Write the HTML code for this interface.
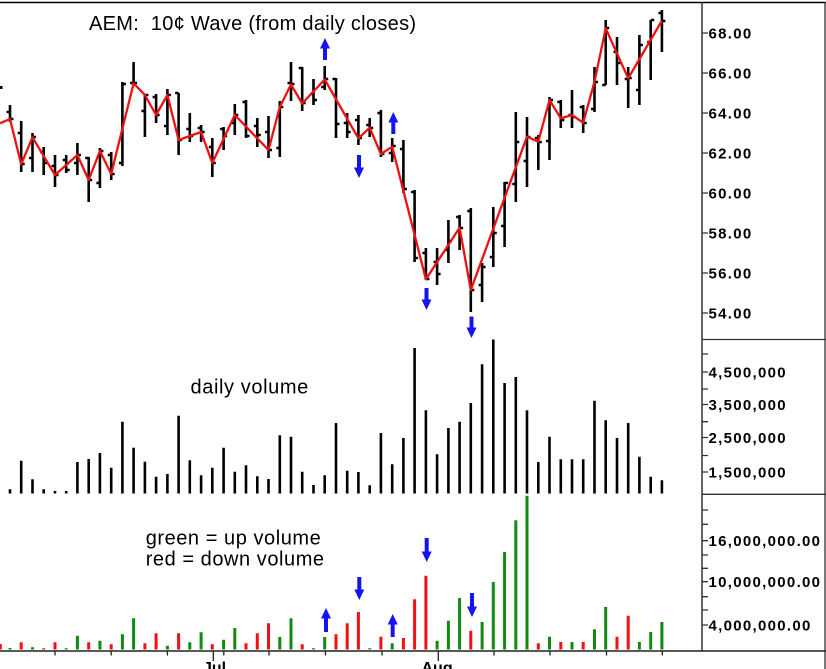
<!DOCTYPE html>
<html>
<head>
<meta charset="utf-8">
<style>
  html, body { margin: 0; padding: 0; background: #ffffff; }
  svg { display: block; }
  .t { font-family: "Liberation Sans", Arial, sans-serif; fill: #000; }
  .ax { font-family: "Liberation Sans", Arial, sans-serif; font-weight: bold; font-size: 15px; letter-spacing: 1.3px; fill: #000; }
</style>
</head>
<body>
<svg width="826" height="669" viewBox="0 0 826 669" xmlns="http://www.w3.org/2000/svg">
  <rect x="0" y="0" width="826" height="669" fill="#ffffff"/>

  <line x1="0" y1="2.5" x2="826" y2="2.5" stroke="#000" stroke-width="1.5"/>
  <line x1="702" y1="2" x2="702" y2="651" stroke="#333" stroke-width="1.5"/>
  <line x1="825" y1="2" x2="825" y2="669" stroke="#333" stroke-width="1.3"/>
  <line x1="702" y1="339.5" x2="826" y2="339.5" stroke="#333" stroke-width="1.3"/>
  <line x1="702" y1="494.3" x2="826" y2="494.3" stroke="#333" stroke-width="1.3"/>
  <line x1="0" y1="651" x2="826" y2="651" stroke="#222" stroke-width="1.5"/>

  <path d="M55 651V655.5M111.2 651V655.5M167.4 651V655.5M223.8 651V655.5M269 651V655.5M325.5 651V655.5M382 651V655.5M494 651V655.5M550 651V655.5M606.5 651V655.5M662.3 651V655.5M213.3 651V661M438.3 651V661" stroke="#222" stroke-width="1.3" fill="none"/>
  <text class="t" x="203" y="673" style="font-size:16px;font-weight:bold">Jul</text>
  <text class="t" x="421.5" y="673" style="font-size:16px;font-weight:bold">Aug</text>

  <path d="M702 33H708M702 73H708M702 113H708M702 153H708M702 193H708M702 233H708M702 273H708M702 313H708M702 354H708M702 372H708M702 389H708M702 404.5H708M702 421.7H708M702 437.5H708M702 455.5H708M702 472H708M702 510H708M702 524.3H708M702 540.7H708M702 555H708M702 568.3H708M702 581.7H708M702 596.7H708M702 610H708M702 625H708" stroke="#333" stroke-width="1.3" fill="none"/>

  <text class="ax" x="708.5" y="38.5">68.00</text>
  <text class="ax" x="708.5" y="78.5">66.00</text>
  <text class="ax" x="708.5" y="118.5">64.00</text>
  <text class="ax" x="708.5" y="158.5">62.00</text>
  <text class="ax" x="708.5" y="198.5">60.00</text>
  <text class="ax" x="708.5" y="238.5">58.00</text>
  <text class="ax" x="708.5" y="278.5">56.00</text>
  <text class="ax" x="708.5" y="318.5">54.00</text>
  <text class="ax" x="708.5" y="377.5">4,500,000</text>
  <text class="ax" x="708.5" y="410">3,500,000</text>
  <text class="ax" x="708.5" y="443">2,500,000</text>
  <text class="ax" x="708.5" y="477.5">1,500,000</text>
  <text class="ax" x="708.5" y="546.2">16,000,000.00</text>
  <text class="ax" x="708.5" y="587.2">10,000,000.00</text>
  <text class="ax" x="708.5" y="630.5">4,000,000.00</text>

  <text class="t" x="89" y="30" style="font-size:20px;letter-spacing:0.3px;white-space:pre" xml:space="preserve">AEM:  10¢ Wave (from daily closes)</text>
  <text class="t" x="190.5" y="393.3" style="font-size:20px;letter-spacing:0.6px">daily volume</text>
  <text class="t" x="145.7" y="544.3" style="font-size:20px;letter-spacing:0.55px">green = up volume</text>
  <text class="t" x="145.7" y="565.5" style="font-size:20px;letter-spacing:0.55px">red = down volume</text>

  <rect x="0" y="86" width="2.5" height="3" fill="#000"/>
  <path fill="none" stroke="#000" stroke-width="2.6" d="M10 105V122M6.5 112H10M10 119H13.5M21.2 121V172M17.7 133H21.2M21.2 164H24.7M32.5 133V172M29 158H32.5M32.5 137H36M43.7 147V175M40.2 152H43.7M43.7 163H47.2M55 155V187M51.5 166H55M55 175H58.5M66.2 155V173M62.7 160H66.2M66.2 170H69.7M77.4 143V175M73.9 163H77.4M77.4 155H80.9M88.7 157V202M85.2 158H88.7M88.7 180H92.2M99.9 148V188M96.4 183H99.9M99.9 151H103.4M111.2 152V180M107.7 155H111.2M111.2 174H114.7M122.4 82V166M118.9 163H122.4M122.4 84H125.9M133.6 62V86M130.1 83H133.6M133.6 83H137.1M144.9 94V137M141.4 111H144.9M144.9 95H148.4M156.1 94V123M152.6 97H156.1M156.1 115H159.6M167.4 89V135M163.9 126H167.4M167.4 95H170.9M178.6 93V155M175.1 93H178.6M178.6 140H182.1M189.8 113V142M186.3 129H189.8M189.8 136H193.3M201.1 125V142M197.6 128H201.1M201.1 132H204.6M212.3 138V177M208.8 147H212.3M212.3 163H215.8M223.6 127V150M220.1 129H223.6M223.6 136H227.1M234.8 104V135M231.3 123H234.8M234.8 115H238.3M246 100V138M242.5 102H246M246 136H249.5M257.3 118V147M253.8 126H257.3M257.3 135H260.8M268.5 116V158M265 132H268.5M268.5 150H272M279.8 101V157M276.3 148H279.8M279.8 107H283.3M291 62V101M287.5 83H291M291 84H294.5M302.2 67V111M298.7 68H302.2M302.2 103H305.7M313.5 79V105M310 94H313.5M313.5 100H317M324.7 66V90M321.2 87H324.7M324.7 79H328.2M336 78V138M332.5 79H336M336 124H339.5M347.2 113V138M343.7 123H347.2M347.2 132H350.7M358.4 115V145M354.9 120H358.4M358.4 138H361.9M369.7 118V137M366.2 125H369.7M369.7 128H373.2M380.9 110V157M377.4 113H380.9M380.9 154H384.4M392.2 138V162M388.7 153H392.2M392.2 146H395.7M403.4 140V193M399.9 149H403.4M403.4 189H406.9M414.6 190V262M411.1 192H414.6M414.6 258H418.1M425.9 248V280M422.4 253H425.9M425.9 279H429.4M437.1 248V285M433.6 262H437.1M437.1 274H440.6M448.4 220V263M444.9 250H448.4M448.4 241H451.9M459.6 215V250M456.1 217H459.6M459.6 228H463.1M470.8 208V312M467.3 211H470.8M470.8 290H474.3M482.1 263V302M478.6 285H482.1M482.1 267H485.6M493.3 207V267M489.8 257H493.3M493.3 233H496.8M504.6 182V247M501.1 226H504.6M504.6 183H508.1M515.8 112V202M512.3 184H515.8M515.8 142H519.3M527 117V187M523.5 161H527M527 137H530.5M538.3 135V170M534.8 138H538.3M538.3 142H541.8M549.5 97V160M546 141H549.5M549.5 100H553M560.8 100V128M557.3 102H560.8M560.8 120H564.3M572 90V128M568.5 115H572M572 117H575.5M583.2 105V133M579.7 107H583.2M583.2 123H586.7M594.5 67V112M591 109H594.5M594.5 82H598M605.7 20V85M602.2 85H605.7M605.7 28H609.2M617 37V85M613.5 52H617M617 63H620.5M628.2 67V108M624.7 79H628.2M628.2 78H631.7M639.4 35V105M635.9 90H639.4M639.4 45H642.9M650.7 20V80M647.2 42H650.7M650.7 20H654.2M661.9 10V52M658.4 13H661.9M661.9 21H665.4"/>

  <polyline fill="none" stroke="#ee1111" stroke-width="2.3" stroke-linejoin="round" points="0,123.3 10,119 21.2,164.3 32.5,137.3 55,175 77.4,155 88.7,180 99.9,151 111.2,174 133.6,83.3 144.9,95 156.1,115 167.4,95 178.6,140 201.1,132 212.3,163 234.8,115 268.5,150 279.8,107 291,84.5 302.2,103.5 324.7,79.5 358.4,138.3 369.7,127.7 380.9,154 392.2,146.7 425.9,279.3 459.6,227.7 470.8,290 527,136.7 538.3,141.7 549.5,100 560.8,118.3 572,115 583.2,122.7 594.5,81.7 605.7,28.3 628.2,78.3 661.9,20.7"/>

  <path fill="none" stroke="#000" stroke-width="2.6" d="M10 493.5V489.3M21.2 493.5V460.7M32.5 493.5V479.3M43.7 493.5V489.3M55 493.5V491M66.2 493.5V491M77.4 493.5V462M88.7 493.5V459M99.9 493.5V453M111.2 493.5V467.7M122.4 493.5V421.7M133.6 493.5V447.7M144.9 493.5V461.7M156.1 493.5V476.7M167.4 493.5V474M178.6 493.5V415.7M189.8 493.5V460.3M201.1 493.5V475.3M212.3 493.5V467.7M223.6 493.5V447.7M234.8 493.5V471.7M246 493.5V465.3M257.3 493.5V476.3M268.5 493.5V479M279.8 493.5V435.3M291 493.5V436.7M302.2 493.5V471.7M313.5 493.5V485M324.7 493.5V475.3M336 493.5V423M347.2 493.5V470.7M358.4 493.5V472M369.7 493.5V485.3M380.9 493.5V433M392.2 493.5V464.3M403.4 493.5V438M414.6 493.5V348M425.9 493.5V410.3M437.1 493.5V454.3M448.4 493.5V428M459.6 493.5V421.7M470.8 493.5V403M482.1 493.5V364.3M493.3 493.5V339.5M504.6 493.5V383M515.8 493.5V377M527 493.5V410.3M538.3 493.5V462M549.5 493.5V436.7M560.8 493.5V459.3M572 493.5V459.3M583.2 493.5V459.3M594.5 493.5V400.7M605.7 493.5V420.3M617 493.5V438M628.2 493.5V423M639.4 493.5V456.7M650.7 493.5V476.7M661.9 493.5V480.3"/>

  <path fill="none" stroke="#128a12" stroke-width="3" d="M10 649.5V648M32.5 649.5V647.3M66.2 649.5V648.3M77.4 649.5V635.7M99.9 649.5V640.7M122.4 649.5V634.3M133.6 649.5V618.3M167.4 649.5V645.7M189.8 649.5V642.3M201.1 649.5V632.3M223.6 649.5V639.7M234.8 649.5V628M279.8 649.5V637M291 649.5V618.3M313.5 649.5V648.3M324.7 649.5V637M369.7 649.5V648.3M392.2 649.5V643.3M437.1 649.5V640.7M448.4 649.5V620.7M459.6 649.5V598M482.1 649.5V622M493.3 649.5V582M504.6 649.5V552M515.8 649.5V520.3M527 649.5V495.7M549.5 649.5V636.7M572 649.5V642M594.5 649.5V629.3M605.7 649.5V607M639.4 649.5V642M650.7 649.5V632M661.9 649.5V622"/>

  <path fill="none" stroke="#f01212" stroke-width="3" d="M0.3 649.5V644M21.2 649.5V642.3M43.7 649.5V648.3M55 649.5V642.3M88.7 649.5V642.3M111.2 649.5V644.3M144.9 649.5V643.3M156.1 649.5V633.3M178.6 649.5V633.3M212.3 649.5V644.3M246 649.5V643.3M257.3 649.5V633.3M268.5 649.5V623.3M302.2 649.5V644.3M336 649.5V634.3M347.2 649.5V623.3M358.4 649.5V612M380.9 649.5V636.7M403.4 649.5V638M414.6 649.5V599.3M425.9 649.5V575.7M470.8 649.5V630.7M538.3 649.5V643.3M560.8 649.5V642M583.2 649.5V642M617 649.5V636.7M628.2 649.5V615.7"/>

  <g fill="#1414f0">
    <polygon points="325,38 330,48.5 327,48.5 327,60 323,60 323,48.5 320,48.5"/>
    <polygon points="359,178 364,167.5 361,167.5 361,155 357,155 357,167.5 354,167.5"/>
    <polygon points="393.3,112 398.3,122.5 395.3,122.5 395.3,134 391.3,134 391.3,122.5 388.3,122.5"/>
    <polygon points="426.5,310 431.5,299.5 428.5,299.5 428.5,288 424.5,288 424.5,299.5 421.5,299.5"/>
    <polygon points="471.5,338 476.5,327.5 473.5,327.5 473.5,316.5 469.5,316.5 469.5,327.5 466.5,327.5"/>
    <polygon points="326,608 331,618.5 328,618.5 328,632 324,632 324,618.5 321,618.5"/>
    <polygon points="359.3,600 364.3,589.5 361.3,589.5 361.3,577 357.3,577 357.3,589.5 354.3,589.5"/>
    <polygon points="392.7,614 397.7,624.5 394.7,624.5 394.7,637 390.7,637 390.7,624.5 387.7,624.5"/>
    <polygon points="426.7,562 431.7,551.5 428.7,551.5 428.7,538 424.7,538 424.7,551.5 421.7,551.5"/>
    <polygon points="472,617 477,606.5 474,606.5 474,593 470,593 470,606.5 467,606.5"/>
  </g>
</svg>
</body>
</html>
